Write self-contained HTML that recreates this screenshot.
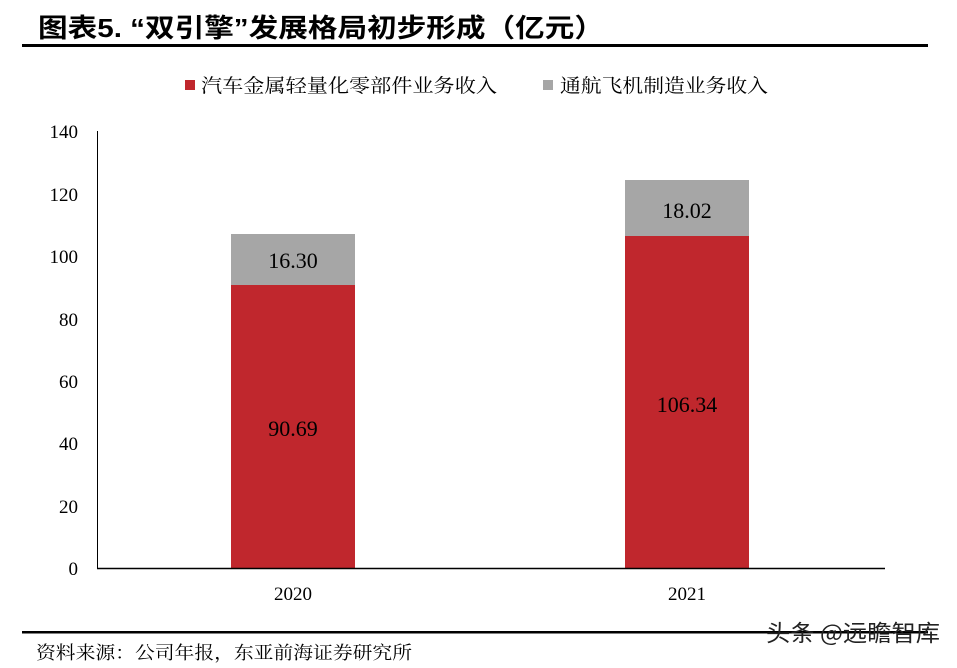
<!DOCTYPE html>
<html><head><meta charset="utf-8"><style>
body{margin:0;background:#fff;}
svg text{font-family:"Liberation Serif","Noto Serif CJK SC",serif;}
</style></head><body>
<svg width="957" height="663" xmlns="http://www.w3.org/2000/svg">
<text x="38" y="37" font-size="26" font-weight="bold" textLength="566" lengthAdjust="spacingAndGlyphs" style="font-family:'Liberation Sans','Noto Sans CJK SC',sans-serif">图表5.  “双引擎”发展格局初步形成（亿元）</text>
<rect x="22" y="44" width="906" height="3" fill="#000"/>
<rect x="185" y="80" width="10" height="10" fill="#c0272d"/>
<text x="201" y="92" font-size="19" textLength="296" lengthAdjust="spacingAndGlyphs" style="font-family:'Noto Serif CJK SC',serif">汽车金属轻量化零部件业务收入</text>
<rect x="543" y="80" width="10" height="10" fill="#a6a6a6"/>
<text x="560" y="92" font-size="19" textLength="208" lengthAdjust="spacingAndGlyphs" style="font-family:'Noto Serif CJK SC',serif">通航飞机制造业务收入</text>
<g font-size="19" text-anchor="end">
<text x="78" y="575">0</text><text x="78" y="513">20</text><text x="78" y="450">40</text>
<text x="78" y="388">60</text><text x="78" y="326">80</text><text x="78" y="263">100</text>
<text x="78" y="201">120</text><text x="78" y="138">140</text>
</g>
<line x1="97.5" y1="131" x2="97.5" y2="568" stroke="#000" stroke-width="1"/>
<rect x="231" y="285" width="124" height="283" fill="#c0272d"/>
<rect x="231" y="234" width="124" height="51" fill="#a6a6a6"/>
<rect x="625" y="236" width="124" height="332" fill="#c0272d"/>
<rect x="625" y="180" width="124" height="56" fill="#a6a6a6"/>
<line x1="97" y1="568.5" x2="885" y2="568.5" stroke="#000" stroke-width="1.5"/>
<g font-size="22" text-anchor="middle">
<text x="293" y="436">90.69</text><text x="293" y="268">16.30</text>
<text x="687" y="412">106.34</text><text x="687" y="218">18.02</text>
</g>
<g font-size="19" text-anchor="middle"><text x="293" y="600">2020</text><text x="687" y="600">2021</text></g>
<rect x="22" y="631" width="906" height="2.5" fill="#000"/>
<text x="36" y="659" font-size="18" textLength="376" lengthAdjust="spacingAndGlyphs" style="font-family:'Noto Serif CJK SC',serif">资料来源：公司年报，东亚前海证券研究所</text>
<text x="766" y="641" font-size="23" fill="#222" textLength="174" lengthAdjust="spacingAndGlyphs" style="font-family:'Noto Sans CJK SC',sans-serif">头条 @远瞻智库</text>
</svg>
</body></html>
